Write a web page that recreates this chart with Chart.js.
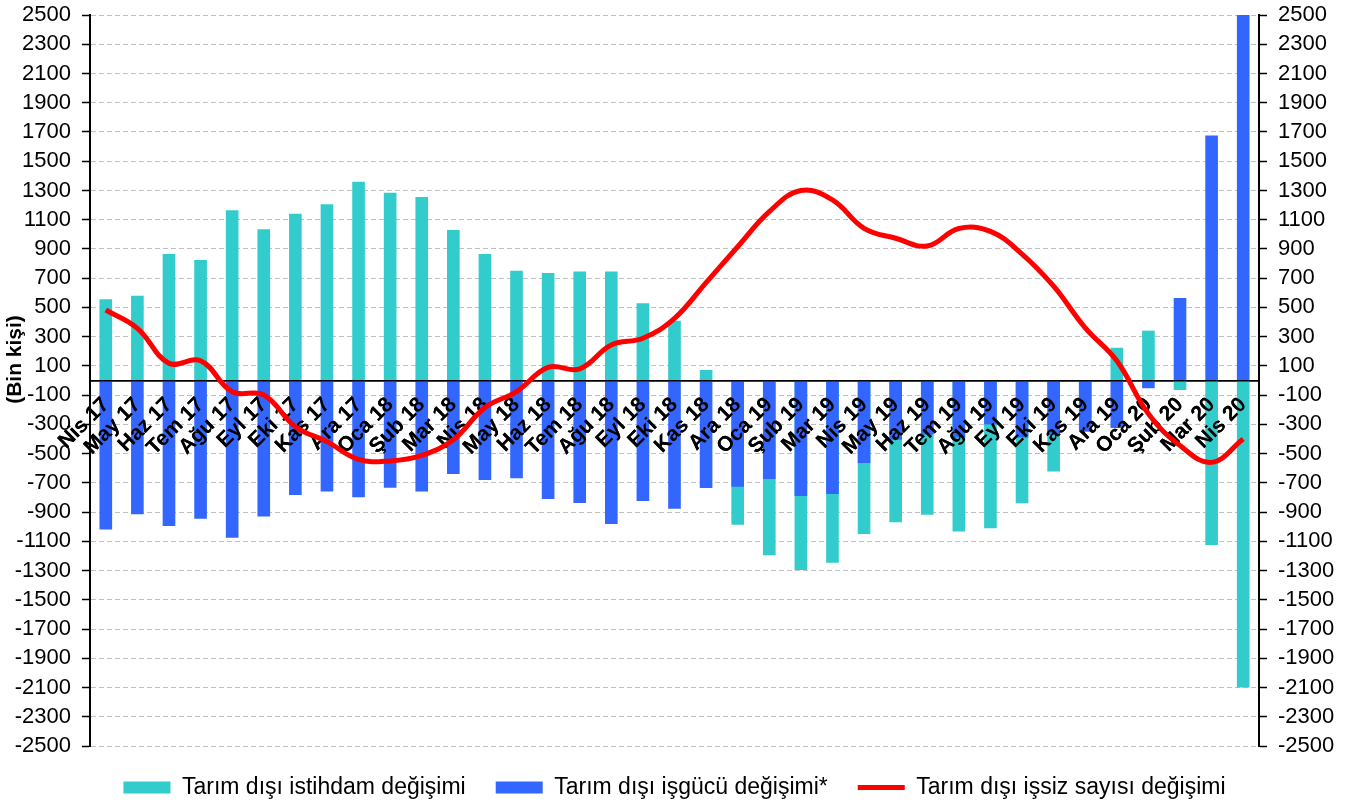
<!DOCTYPE html>
<html>
<head>
<meta charset="utf-8">
<script src="https://cdn.jsdelivr.net/npm/chart.js@4.4.0/dist/chart.umd.min.js"></script>
<style>
html, body { margin: 0; padding: 0; background: #fff; }
#wrap { width: 1349px; height: 806px; }
</style>
</head>
<body>
<div id="wrap"><canvas id="chart"></canvas></div>
<script>
const months = ['Nis 17', 'May 17', 'Haz 17', 'Tem 17', 'Ağu 17', 'Eyl 17', 'Eki 17', 'Kas 17', 'Ara 17',
    'Oca 18', 'Şub 18', 'Mar 18', 'Nis 18', 'May 18', 'Haz 18', 'Tem 18', 'Ağu 18', 'Eyl 18', 'Eki 18', 'Kas 18', 'Ara 18',
    'Oca 19', 'Şub 19', 'Mar 19', 'Nis 19', 'May 19', 'Haz 19', 'Tem 19', 'Ağu 19', 'Eyl 19', 'Eki 19', 'Kas 19', 'Ara 19',
    'Oca 20', 'Şub 20', 'Mar 20', 'Nis 20'];

// bin kişi
const istihdam = [555, 580, 865, 825, 1165, 1035, 1140, 1205, 1360, 1285, 1255, 1030, 865, 750, 735, 745, 745, 528, 409, 72,
    -986, -1195, -1297, -1247, -1050, -970, -918, -1033, -1011, -840, -623, -250, 224, 341, -65, -1125, -2100];
const isgucu = [-1020, -915, -995, -945, -1075, -930, -783, -760, -799, -733, -760, -640, -681, -669, -810, -838, -982, -824, -877, -735,
    -726, -674, -790, -776, -565, -405, -370, -390, -300, -390, -370, -350, -325, -53, 565, 1675, 2500];
const issiz = [482, 357, 118, 135, -77, -99, -316, -418, -540, -550, -512, -405, -185, -76, 90, 80, 243, 289, 425, 670,
    915, 1155, 1300, 1235, 1041, 973, 920, 1040, 1020, 865, 645, 360, 135, -228, -445, -560, -400];

const yMin = -2500, yMax = 2500, yStep = 200;
const yTitle = '(Bin kişi)';

Chart.defaults.font.family = "'Liberation Sans', Arial, sans-serif";
Chart.defaults.color = '#000';

// month labels sit over the bars but under the red line
const labelsOverBars = {
    id: 'labelsOverBars',
    beforeDatasetDraw(chart, args) {
        if (args.index !== 2) return;
        const x = chart.scales.x;
        x.drawBorder();
        x.drawLabels(chart.chartArea);
    },
    afterDraw(chart) {
        const c = chart.ctx;
        const a = chart.chartArea;
        c.save();
        c.translate(15, (a.top + a.bottom) / 2 - 21);
        c.rotate(-Math.PI / 2);
        c.font = "bold 21px 'Liberation Sans', Arial, sans-serif";
        c.fillStyle = '#000';
        c.textAlign = 'center';
        c.textBaseline = 'middle';
        c.fillText(yTitle, 0, 0);
        c.restore();
    }
};

// fixed axis widths so the plot lines up with the original
function fixAxis(scale) {
    scale.width = 90;
    scale.paddingTop = 15;
    scale.paddingBottom = 13;
}

const yTicks = {
    stepSize: yStep,
    autoSkip: false,
    font: { size: 22 },
    color: '#000',
    padding: 11,
    callback: function(v) { return String(v); }
};

const ctx = document.getElementById('chart').getContext('2d');
new Chart(ctx, {
    type: 'bar',
    data: {
        labels: months,
        datasets: [{
            label: 'Tarım dışı istihdam değişimi',
            data: istihdam,
            backgroundColor: '#33cccc',
            grouped: false,
            order: 2
        }, {
            label: 'Tarım dışı işgücü değişimi*',
            data: isgucu,
            backgroundColor: '#3366ff',
            grouped: false,
            order: 1
        }, {
            type: 'line',
            label: 'Tarım dışı işsiz sayısı değişimi',
            data: issiz,
            borderColor: '#ff0000',
            backgroundColor: '#ff0000',
            borderWidth: 5,
            pointRadius: 0,
            tension: 0.4,
            order: 0
        }]
    },
    options: {
        responsive: true,
        maintainAspectRatio: false,
        animation: false,
        categoryPercentage: 0.8,
        barPercentage: 0.5,
        layout: { padding: { top: 0, right: 0, bottom: -3, left: 0 } },
        plugins: {
            tooltip: { enabled: false },
            legend: {
                position: 'bottom',
                labels: {
                    font: { size: 23 },
                    color: '#000',
                    usePointStyle: true,
                    pointStyleWidth: 47,
                    boxHeight: 12,
                    padding: 30,
                    sort: function(a, b) { return a.datasetIndex - b.datasetIndex; },
                    generateLabels: function(chart) {
                        const items = Chart.defaults.plugins.legend.labels.generateLabels(chart);
                        items.forEach(function(it) {
                            if (it.datasetIndex < 2) {
                                it.pointStyle = 'rect';
                                it.lineWidth = 0;
                            } else {
                                it.pointStyle = 'line';
                                it.lineWidth = 5;
                                it.strokeStyle = '#ff0000';
                            }
                        });
                        return items;
                    }
                }
            }
        },
        scales: {
            x: {
                position: { y: 0 },
                grid: { display: false, drawTicks: false },
                border: { display: true, color: '#000', width: 1.5 },
                ticks: {
                    autoSkip: false,
                    minRotation: 45,
                    maxRotation: 45,
                    padding: 12,
                    color: '#000',
                    font: { size: 21, weight: 'bold' }
                }
            },
            y: {
                position: 'left',
                min: yMin,
                max: yMax,
                ticks: yTicks,
                afterFit: fixAxis,
                grid: { color: '#c0c0c0', lineWidth: 1, tickColor: '#000', tickLength: 8, tickWidth: 1.5, tickBorderDash: [] },
                border: { color: '#000', width: 2, dash: [5, 3] }
            },
            y2: {
                position: 'right',
                min: yMin,
                max: yMax,
                ticks: yTicks,
                afterFit: fixAxis,
                grid: { drawOnChartArea: false, tickColor: '#000', tickLength: 8, tickWidth: 1.5 },
                border: { color: '#000', width: 2 }
            }
        }
    },
    plugins: [labelsOverBars]
});
</script>
</body>
</html>
